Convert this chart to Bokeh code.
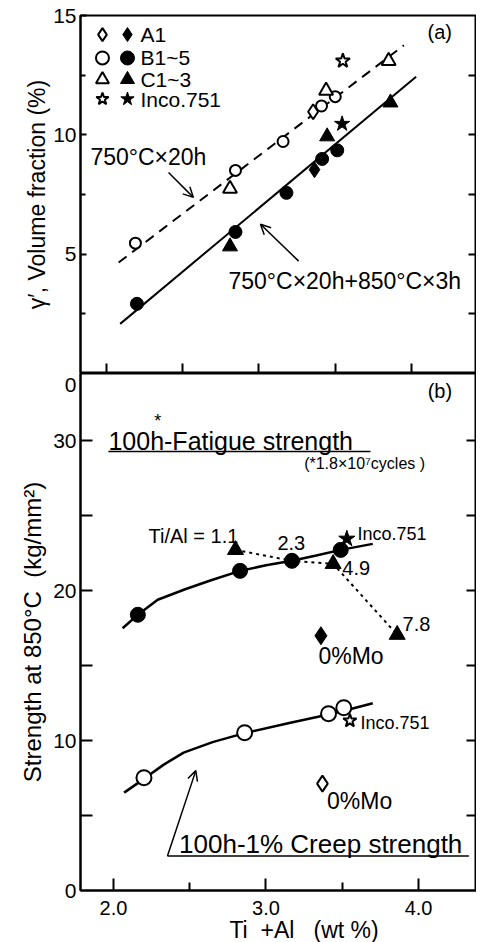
from bokeh.plotting import figure
from bokeh.layouts import column
from bokeh.models import FixedTicker, LinearAxis, Arrow, OpenHead, PrintfTickFormatter
from bokeh.core.properties import value
from bokeh.embed import file_html
from bokeh.resources import INLINE

FONT = "Liberation Sans"
NB = "\u00a0"

# ---------------- Panel (a): gamma' volume fraction ----------------
a_open_circle_x = [2.19, 2.846, 3.158, 3.41, 3.50]
a_open_circle_y = [5.46, 8.51, 9.72, 11.21, 11.6]
a_open_diamond_x = [3.355]
a_open_diamond_y = [10.97]
a_open_tri_x = [2.81, 3.44, 3.85]
a_open_tri_y = [7.74, 11.85, 13.1]
a_open_star_x = [3.55]
a_open_star_y = [13.1]

a_fill_circle_x = [2.20, 2.846, 3.18, 3.414, 3.513]
a_fill_circle_y = [2.92, 5.93, 7.57, 8.99, 9.35]
a_fill_diamond_x = [3.364]
a_fill_diamond_y = [8.54]
a_fill_tri_x = [2.81, 3.447, 3.862]
a_fill_tri_y = [5.32, 9.93, 11.35]
a_fill_star_x = [3.545]
a_fill_star_y = [10.46]

a_dash_x = [2.08, 3.95]
a_dash_y = [4.65, 13.75]
a_solid_x = [2.09, 4.03]
a_solid_y = [2.08, 12.43]

legend_labels = ["A1", "B1~5", "C1~3", "Inco.751"]
legend_markers = ["diamond", "circle", "triangle", "star"]

# ---------------- Panel (b): strength at 850 C ----------------
b_fat_circle_x = [2.16, 2.83, 3.17, 3.49]
b_fat_circle_y = [18.4, 21.33, 22.0, 22.73]
b_fat_tri_x = [2.80, 3.44, 3.86]
b_fat_tri_y = [22.73, 21.8, 17.07]
b_fat_star_x = [3.53]
b_fat_star_y = [23.47]
b_fat_diamond_x = [3.36]
b_fat_diamond_y = [17.0]
b_fat_curve_x = [2.06, 2.16, 2.29, 2.47, 2.64, 2.83, 3.00, 3.17, 3.33, 3.49, 3.70]
b_fat_curve_y = [17.5, 18.4, 19.4, 20.1, 20.7, 21.33, 21.7, 22.0, 22.35, 22.73, 23.13]
b_tial_x = [2.80, 3.17, 3.44, 3.86]
b_tial_y = [22.73, 22.0, 21.8, 17.07]
b_tial_labels = ["Ti/Al = 1.1", "2.3", "4.9", "7.8"]

b_creep_circle_x = [2.20, 2.86, 3.41, 3.51]
b_creep_circle_y = [7.53, 10.53, 11.8, 12.2]
b_creep_star_x = [3.55]
b_creep_star_y = [11.33]
b_creep_diamond_x = [3.37]
b_creep_diamond_y = [7.13]
b_creep_curve_x = [2.07, 2.20, 2.33, 2.46, 2.65, 2.86, 3.16, 3.41, 3.55, 3.70]
b_creep_curve_y = [6.53, 7.45, 8.4, 9.2, 9.9, 10.5, 11.2, 11.75, 12.1, 12.5]

x_ticks = [2.0, 3.0, 4.0]
x_minor = [2.5, 3.5]
a_y_ticks = [5, 10, 15]
a_y_minor = [2.5, 7.5, 12.5]
b_y_ticks = [0, 10, 20, 30]
b_y_tickmarks = [5, 10, 15, 20, 25, 30]
A_ZERO_POS = 33.75   # where panel (a)'s "0" label is shown, just under the shared boundary

A_XR = (1.83, 4.426)
A_YR = (0, 15)
B_XR = (1.784, 4.38)
B_YR = (0, 34.5)


def style_common(p):
    p.grid.visible = False
    p.outline_line_color = "black"
    p.outline_line_width = 2
    p.background_fill_color = "white"
    p.border_fill_color = "white"


def style_axis(ax):
    ax.axis_line_width = 2
    ax.axis_line_color = "black"
    ax.major_tick_line_width = 2
    ax.minor_tick_line_width = 2
    ax.major_label_text_font = FONT
    ax.axis_label_text_font = FONT
    ax.major_label_text_color = "black"
    ax.axis_label_text_color = "black"
    ax.axis_label_text_font_style = "normal"


def txt(p, x, y, t, size, align="left", baseline="middle"):
    p.text(x=x, y=y, text=t, text_font=value(FONT), text_font_size=size,
           text_align=align, text_baseline=baseline, text_color="black")


def open_m(p, x, y, marker, size):
    p.scatter(x, y, marker=marker, size=size, fill_color="white",
              line_color="black", line_width=2)


def fill_m(p, x, y, marker, size):
    p.scatter(x, y, marker=marker, size=size, fill_color="black",
              line_color="black", line_width=1)


# ---------- figure a ----------
p1 = figure(frame_width=396, frame_height=358, x_range=A_XR, y_range=A_YR,
            output_backend="svg", toolbar_location=None,
            min_border_left=80, min_border_right=0, min_border_top=15, min_border_bottom=0)
style_common(p1)
p1.xaxis.ticker = FixedTicker(ticks=[], minor_ticks=x_ticks + x_minor)
p1.xaxis.major_label_standoff = 0
p1.xaxis.minor_tick_in = 10
p1.xaxis.minor_tick_out = 0
p1.xaxis.major_tick_out = 0
p1.xaxis.major_tick_in = 0
p1.yaxis.ticker = FixedTicker(ticks=a_y_ticks, minor_ticks=a_y_minor)
p1.yaxis.major_tick_out = 0
p1.yaxis.major_tick_in = 6
p1.yaxis.minor_tick_in = 5
p1.yaxis.minor_tick_out = 0
p1.yaxis.major_label_text_font_size = "21px"
p1.yaxis.major_label_standoff = 4
p1.yaxis.axis_label = "γ′, Volume fraction (%)"
p1.yaxis.axis_label_text_font_size = "23px"
p1.yaxis.axis_label_standoff = 0
ra = LinearAxis(ticker=FixedTicker(ticks=[], minor_ticks=[2.5, 5, 7.5, 10, 12.5]),
                minor_tick_in=8, minor_tick_out=0, major_tick_in=0, major_tick_out=0,
                major_label_standoff=0)
p1.add_layout(ra, "right")
for ax in [p1.xaxis[0], p1.yaxis[0], ra]:
    style_axis(ax)

p1.line(a_dash_x, a_dash_y, line_color="black", line_width=2, line_dash="10 7")
p1.line(a_solid_x, a_solid_y, line_color="black", line_width=2)
open_m(p1, a_open_circle_x, a_open_circle_y, "circle", 11)
open_m(p1, a_open_diamond_x, a_open_diamond_y, "diamond", 15)
open_m(p1, a_open_tri_x, a_open_tri_y, "triangle", 14)
open_m(p1, a_open_star_x, a_open_star_y, "star", 15)
fill_m(p1, a_fill_circle_x, a_fill_circle_y, "circle", 13)
fill_m(p1, a_fill_diamond_x, a_fill_diamond_y, "diamond", 16)
fill_m(p1, a_fill_tri_x, a_fill_tri_y, "triangle", 15)
fill_m(p1, a_fill_star_x, a_fill_star_y, "star", 16)

# legend (manual, two markers per row)
leg_rows_y = [14.2, 13.22, 12.32, 11.5]
for lb, mk, ly in zip(legend_labels, legend_markers, leg_rows_y):
    open_m(p1, [1.974], [ly], mk, 13)
    fill_m(p1, [2.138], [ly], mk, 14)
    txt(p1, [2.223], [ly], [lb], "21px")

txt(p1, [4.105], [14.3], ["(a)"], "20px")
txt(p1, [1.895], [9.08], ["750°C×20h"], "23px")
txt(p1, [2.80], [3.88], ["750°C×20h+850°C×3h"], "23px")
p1.add_layout(Arrow(end=OpenHead(size=10, line_width=1.5), x_start=2.407, y_start=8.42,
                    x_end=2.57, y_end=7.38, line_width=1.5))
p1.add_layout(Arrow(end=OpenHead(size=10, line_width=1.5), x_start=3.26, y_start=4.71,
                    x_end=3.01, y_end=6.25, line_width=1.5))

# ---------- figure b ----------
p2 = figure(frame_width=396, frame_height=517, x_range=B_XR, y_range=B_YR,
            output_backend="svg", toolbar_location=None,
            min_border_left=80, min_border_right=0, min_border_top=0, min_border_bottom=0)
style_common(p2)
p2.xaxis.ticker = FixedTicker(ticks=x_ticks, minor_ticks=x_minor)
p2.xaxis.formatter = PrintfTickFormatter(format="%.1f")
p2.xaxis.major_label_text_font_size = "20px"
p2.xaxis.major_label_standoff = 10
p2.xaxis.major_tick_in = 12
p2.xaxis.major_tick_out = 0
p2.xaxis.minor_tick_in = 8
p2.xaxis.minor_tick_out = 0
p2.xaxis.axis_label = NB * 8 + "Ti" + NB + " +Al" + NB + NB + " (wt %)"
p2.xaxis.axis_label_text_font_size = "23px"
p2.xaxis.axis_label_standoff = -1
p2.yaxis.ticker = FixedTicker(ticks=b_y_ticks + [A_ZERO_POS], minor_ticks=b_y_tickmarks)
p2.yaxis.major_label_overrides = {A_ZERO_POS: "0"}
p2.yaxis.major_tick_in = 0
p2.yaxis.major_tick_out = 0
p2.yaxis.minor_tick_in = 12
p2.yaxis.minor_tick_out = 0
p2.yaxis.major_label_text_font_size = "21px"
p2.yaxis.major_label_standoff = 4
p2.yaxis.axis_label = "Strength at 850°C" + NB + " (kg/mm²)"
p2.yaxis.axis_label_text_font_size = "24px"
p2.yaxis.axis_label_standoff = 4
rb = LinearAxis(ticker=FixedTicker(ticks=[], minor_ticks=[5, 10, 15, 20, 25, 30]),
                minor_tick_in=10, minor_tick_out=0, major_tick_in=0, major_tick_out=0,
                major_label_standoff=0)
p2.add_layout(rb, "right")
for ax in [p2.xaxis[0], p2.yaxis[0], rb]:
    style_axis(ax)

p2.line(b_fat_curve_x, b_fat_curve_y, line_color="black", line_width=2.5)
p2.line(b_tial_x, b_tial_y, line_color="black", line_width=2, line_dash="3 4")
p2.line(b_creep_curve_x, b_creep_curve_y, line_color="black", line_width=2.5)
fill_m(p2, b_fat_circle_x, b_fat_circle_y, "circle", 15)
fill_m(p2, b_fat_tri_x, b_fat_tri_y, "triangle", 16)
fill_m(p2, b_fat_star_x, b_fat_star_y, "star", 17)
fill_m(p2, b_fat_diamond_x, b_fat_diamond_y, "diamond", 18)
open_m(p2, b_creep_circle_x, b_creep_circle_y, "circle", 15)
open_m(p2, b_creep_star_x, b_creep_star_y, "star", 14)
open_m(p2, b_creep_diamond_x, b_creep_diamond_y, "diamond", 16)

txt(p2, [4.06], [33.3], ["(b)"], "20px")
txt(p2, [2.23, 3.075, 3.50, 3.895], [23.67, 23.2, 21.5, 17.8], b_tial_labels, "20px")
txt(p2, [3.60, 3.62], [23.8, 11.2], ["Inco.751", "Inco.751"], "18px")
txt(p2, [3.344, 3.40], [15.67, 6.0], ["0%Mo", "0%Mo"], "23px")

# fatigue title with underline
txt(p2, [1.967], [30.0], ["100h-Fatigue strength"], "25px")
txt(p2, [2.29], [31.3], ["*"], "18px", align="center")
p2.line([1.967, 3.685], [29.3, 29.3], line_color="black", line_width=1.5)
txt(p2, [3.25], [28.5], ["(*1.8×10⁷cycles )"], "16px")

# creep title with underline and leader arrow
txt(p2, [2.43], [3.1], ["100h-1% Creep strength"], "26px")
p2.line([2.354, 4.33], [2.3, 2.3], line_color="black", line_width=1.5)
p2.add_layout(Arrow(end=OpenHead(size=10, line_width=1.5), x_start=2.354, y_start=2.3,
                    x_end=2.54, y_end=8.0, line_width=1.5))

layout = column(p1, p2, spacing=0)
open("out.html", "w").write(file_html(layout, INLINE))
